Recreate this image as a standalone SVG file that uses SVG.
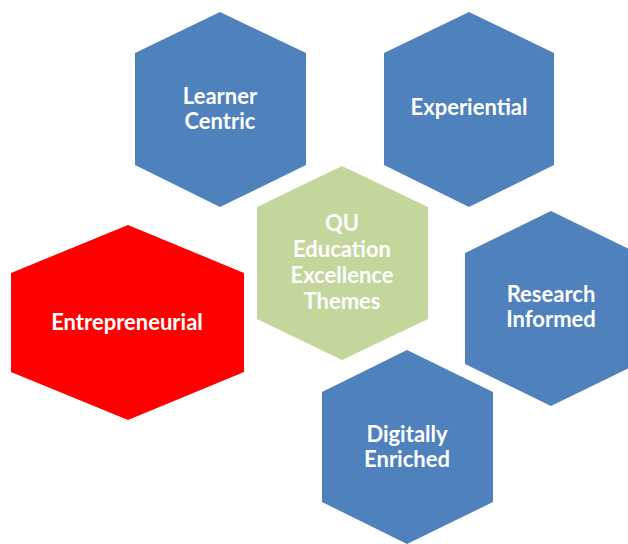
<svg xmlns="http://www.w3.org/2000/svg" width="628" height="544" viewBox="0 0 628 544">
<style>
.blue{fill:#4F81BD}
.green{fill:#C3D69B}
.red{fill:#FF0000}
text{font-family:Lato,"Open Sans","Liberation Sans",sans-serif;font-weight:bold;font-size:22px;fill:#FFFFFF;text-anchor:middle}
</style>
<rect width="628" height="544" fill="#FFFFFF"/>
<g id="connectors"/>
<g id="learner-centric">
<polygon class="blue" points="220,12 306,53 306,165 220,207 135,165 135,53"/>
<text x="220" y="104">Learner</text>
<text x="220" y="129">Centric</text>
</g>
<g id="experiential">
<polygon class="blue" points="469,12 554,53 554,165 469,207 384,165 384,53"/>
<text x="469" y="115">Experiential</text>
</g>
<g id="qu-themes">
<polygon class="green" points="342,166 428,207 428,319 342,360 257,319 257,207"/>
<text x="342" y="231">QU</text>
<text x="342" y="257">Education</text>
<text x="342" y="283">Excellence</text>
<text x="342" y="309">Themes</text>
</g>
<g id="entrepreneurial">
<polygon class="red" points="128,225 244,273 244,372 128,420 11,372 11,273"/>
<text x="127" y="330">Entrepreneurial</text>
</g>
<g id="research-informed">
<polygon class="blue" points="551,211 637,253 637,364 551,406 465,364 465,253"/>
<text x="551" y="302">Research</text>
<text x="551" y="327">Informed</text>
</g>
<g id="digitally-enriched">
<polygon class="blue" points="407,350 493,392 493,502 407,544 322,502 322,392"/>
<text x="407" y="442">Digitally</text>
<text x="407" y="467">Enriched</text>
</g>
</svg>
